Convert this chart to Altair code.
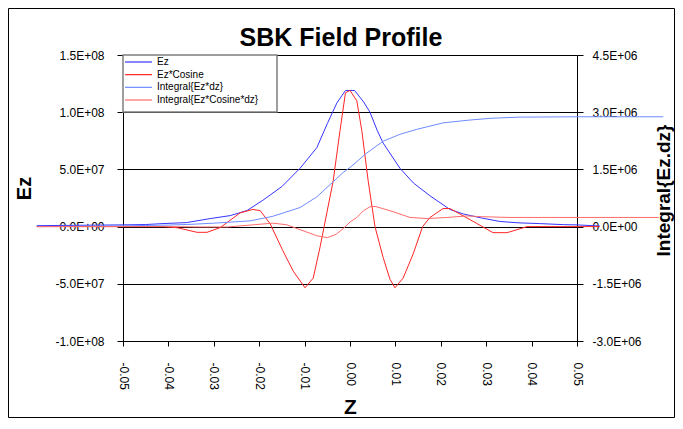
import altair as alt
import pandas as pd

TITLE = "SBK Field Profile"
SERIES = ["Ez", "Ez*Cosine", "Integral{Ez*dz}", "Integral{Ez*Cosine*dz}"]
COLORS = ["#3434FF", "#FF2424", "#6E8CFF", "#FF6A6A"]

X_TICKS = [-0.05, -0.04, -0.03, -0.02, -0.01, 0.0, 0.01, 0.02, 0.03, 0.04, 0.05]
LEFT_TICKS = [-1e8, -5e7, 0, 5e7, 1e8, 1.5e8]
RIGHT_TICKS = [-3e6, -1.5e6, 0, 1.5e6, 3e6, 4.5e6]

# Ez (left axis)
ez_z = [-0.069, -0.05, -0.045, -0.0414, -0.036, -0.0308, -0.0264, -0.0227, -0.0192,
        -0.015, -0.011, -0.0073, -0.005, -0.0029, -0.001, 0.001, 0.003, 0.0044,
        0.006, 0.0073, 0.011, 0.014, 0.0176, 0.022, 0.025, 0.029, 0.033, 0.037,
        0.042, 0.047, 0.05, 0.055]
ez_v = [0.8e6, 1.5e6, 1.8e6, 2.6e6, 3.5e6, 7.0e6, 9.6e6, 1.4e7, 2.3e7,
        3.5e7, 5.1e7, 6.9e7, 9.0e7, 1.08e8, 1.19e8, 1.19e8, 1.09e8, 1.0e8,
        8.4e7, 7.3e7, 5.1e7, 3.8e7, 2.7e7, 1.5e7, 1.1e7, 7.5e6, 4.5e6, 3.3e6,
        2.6e6, 1.7e6, 1.5e6, 0.5e6]

# Ez*Cosine (left axis)
ezc_z = [-0.069, -0.05, -0.045, -0.041, -0.038, -0.0337, -0.0315, -0.0286, -0.0242,
         -0.0214, -0.0198, -0.0176, -0.0148, -0.0125, -0.0099, -0.0081, -0.0066,
         -0.0057, -0.0037, -0.0022, -0.001, 0.0, 0.0015, 0.0026, 0.004, 0.0055,
         0.0073, 0.0088, 0.0099, 0.0117, 0.0139, 0.016, 0.0176, 0.0205, 0.022,
         0.0242, 0.028, 0.0315, 0.0346, 0.039, 0.045, 0.05, 0.055]
ezc_v = [0, 0, 0, 0, -1e6, -5e6, -5e6, -0.9e6, 1.2e7,
         1.5e7, 1.4e7, 2.6e6, -2.1e7, -3.9e7, -5.35e7, -4.5e7, -1.8e7,
         0, 4.0e7, 8.4e7, 1.17e8, 1.19e8, 1.1e8, 8.4e7, 4.0e7, 0,
         -2.7e7, -4.6e7, -5.35e7, -4.5e7, -2.4e7, 0, 7.9e6, 1.58e7, 1.58e7,
         1.1e7, 2.6e6, -5.3e6, -5.3e6, 0, 0, 0, 0]

# Integral{Ez*dz} (right axis)
iez_z = [-0.069, -0.05, -0.045, -0.04, -0.035, -0.03, -0.022, -0.017, -0.011,
         -0.0073, -0.0015, 0.0, 0.0037, 0.0073, 0.011, 0.0147, 0.0205, 0.026,
         0.031, 0.037, 0.05, 0.069]
iez_v = [0, 0.02e6, 0.03e6, 0.04e6, 0.06e6, 0.09e6, 0.15e6, 0.27e6, 0.5e6,
         0.78e6, 1.42e6, 1.55e6, 1.93e6, 2.24e6, 2.42e6, 2.55e6, 2.72e6, 2.79e6,
         2.84e6, 2.87e6, 2.88e6, 2.88e6]

# Integral{Ez*Cosine*dz} (right axis)
iezc_z = [-0.069, -0.05, -0.04, -0.033, -0.027, -0.021, -0.017, -0.014, -0.011,
          -0.0073, -0.005, -0.003, -0.0015, 0.0, 0.0015, 0.003, 0.0044, 0.0055,
          0.0073, 0.0095, 0.0132, 0.017, 0.0214, 0.0258, 0.029, 0.035, 0.05, 0.068]
iezc_v = [0, 0, 0, -0.01e6, -0.01e6, 0.05e6, 0.09e6, 0.05e6, -0.08e6,
          -0.24e6, -0.29e6, -0.2e6, -0.05e6, 0.12e6, 0.24e6, 0.42e6, 0.52e6, 0.53e6,
          0.47e6, 0.39e6, 0.24e6, 0.21e6, 0.24e6, 0.28e6, 0.26e6, 0.24e6, 0.24e6, 0.24e6]

FONT = "Liberation Sans"


def frame(name, zs, vs):
    return pd.DataFrame({"z": zs, "value": vs, "series": name})


df_left = pd.concat([frame(SERIES[0], ez_z, ez_v), frame(SERIES[1], ezc_z, ezc_v)])
df_right = pd.concat([frame(SERIES[2], iez_z, iez_v), frame(SERIES[3], iezc_z, iezc_v)])
df_legend = pd.DataFrame({"series": SERIES, "row": list(range(len(SERIES)))})

sci = "(datum.value < 0 ? '-' : '') + replace(format(abs(datum.value), '.1e'), 'e+', 'E+0')"
dec = "(datum.value < -1e-9 ? '-' : '') + format(abs(datum.value), '.2f')"

color = alt.Color("series:N", scale=alt.Scale(domain=SERIES, range=COLORS), legend=None)

x_enc = alt.X(
    "z:Q",
    scale=alt.Scale(domain=[-0.05, 0.05], nice=False, zero=False),
    axis=alt.Axis(
        values=X_TICKS, labelExpr=dec, labelAngle=90, labelPadding=16, tickSize=5,
        labelFlush=False, labelOverlap=False, grid=False,
        title="Z", titleFontSize=21, titleFontWeight="bold", titleX=227, titleY=72,
        titleBaseline="alphabetic", titleAlign="center",
    ),
)

left = alt.Chart(df_left).mark_line(clip=False, strokeWidth=1).encode(
    x=x_enc,
    y=alt.Y(
        "value:Q",
        scale=alt.Scale(domain=[-1e8, 1.5e8], nice=False, zero=False),
        axis=alt.Axis(
            orient="left", values=LEFT_TICKS, labelExpr=sci, grid=True,
            gridColor="black", gridOpacity=1, gridWidth=1, tickSize=6,
            labelPadding=13, labelOverlap=False,
            title="Ez", titleFontSize=20, titleFontWeight="bold", titleAngle=270,
            titleX=-93, titleY=133, titleBaseline="alphabetic", titleAlign="center",
        ),
    ),
    color=color,
)

right = alt.Chart(df_right).mark_line(clip=False, strokeWidth=1).encode(
    x=x_enc,
    y=alt.Y(
        "value:Q",
        scale=alt.Scale(domain=[-3e6, 4.5e6], nice=False, zero=False),
        axis=alt.Axis(
            orient="right", values=RIGHT_TICKS, labelExpr=sci, grid=False,
            tickSize=6, labelPadding=9, labelOverlap=False,
            title="Integral{Ez.dz}", titleFontSize=19, titleFontWeight="bold",
            titleAngle=270, titleX=92, titleY=135, titleBaseline="alphabetic",
            titleAlign="center",
        ),
    ),
    color=color,
)

legend_box = alt.Chart(pd.DataFrame({"a": [0]})).mark_rect(
    fill="white", stroke="#7f7f7f", strokeWidth=1.5
).encode(x=alt.value(0), x2=alt.value(154), y=alt.value(0), y2=alt.value(57))

row_scale = alt.Scale(type="point", domain=list(range(len(SERIES))), range=[7, 45], padding=0)

legend_lines = alt.Chart(df_legend).mark_rule(strokeWidth=1.2).encode(
    x=alt.value(2), x2=alt.value(29),
    y=alt.Y("row:O", scale=row_scale, axis=None),
    color=color,
)

legend_text = alt.Chart(df_legend).mark_text(
    align="left", baseline="middle", fontSize=10, font=FONT, color="black"
).encode(
    x=alt.value(34),
    y=alt.Y("row:O", scale=row_scale, axis=None),
    text="series:N",
)

title = alt.Chart(pd.DataFrame({"t": [TITLE]})).mark_text(
    align="center", baseline="alphabetic", fontSize=25, fontWeight="bold",
    font=FONT, color="black", clip=False
).encode(x=alt.value(218), y=alt.value(-9), text="t:N")

border = alt.Chart(pd.DataFrame({"a": [0]})).mark_rect(
    fill="transparent", stroke="black", strokeWidth=1, clip=False
).encode(x=alt.value(-114.5), x2=alt.value(551.5), y=alt.value(-46.5), y2=alt.value(362.5))

chart = alt.layer(
    left, right, legend_box, legend_lines, legend_text, title, border
).resolve_scale(y="independent").properties(
    width=454, height=286,
    autosize=alt.AutoSizeParams(type="none"),
    padding={"left": 115, "top": 47, "right": 98, "bottom": 77},
    background="white",
).configure_view(stroke="transparent").configure_axis(
    labelFont=FONT, labelFontSize=12, labelColor="black",
    titleFont=FONT, titleColor="black",
    domainColor="black", tickColor="black", domainWidth=1, tickWidth=1,
)

chart.save("out.html", embed_options={"renderer": "svg", "actions": False})
